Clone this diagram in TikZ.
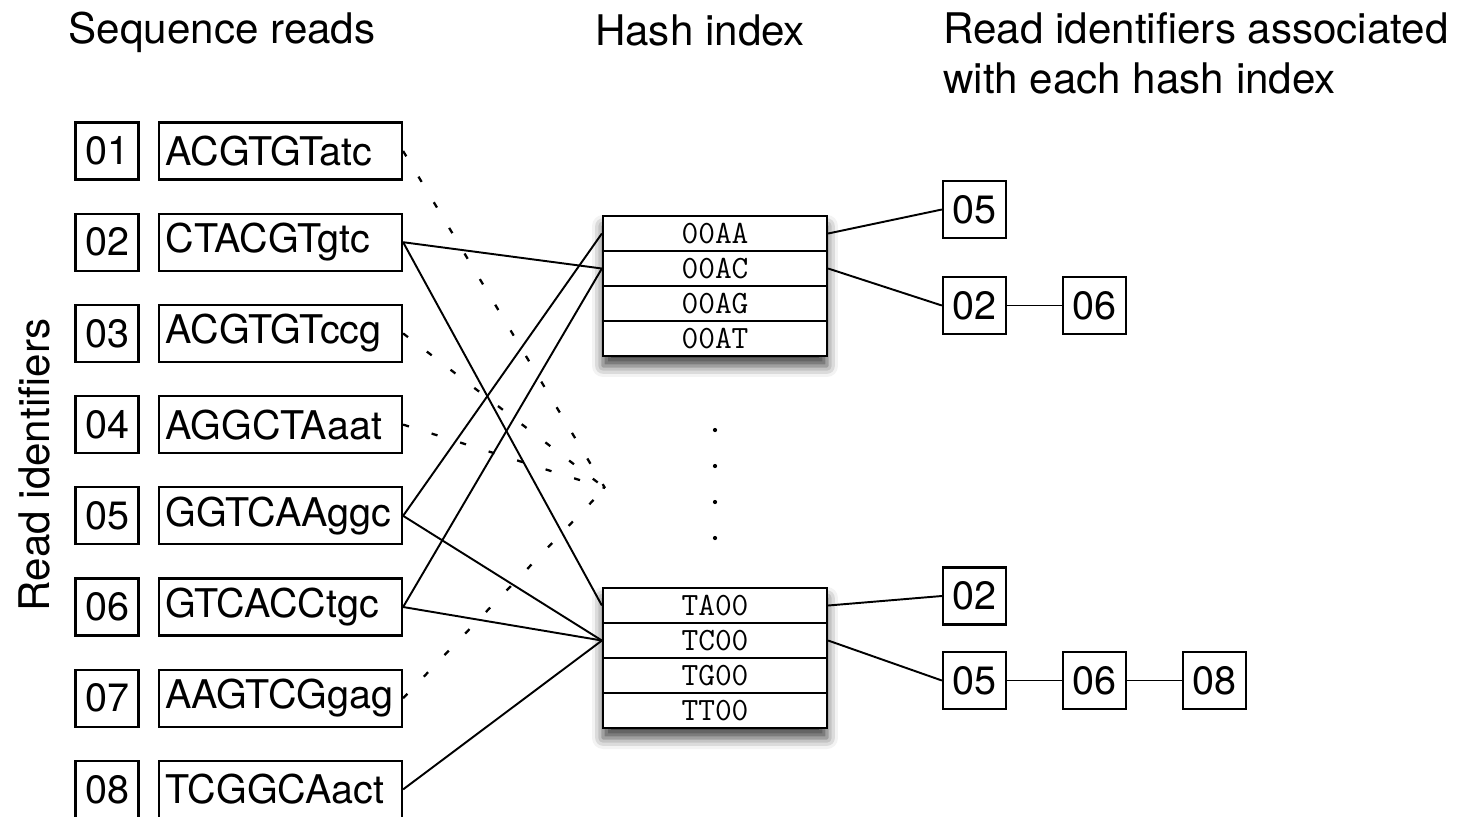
\documentclass[tikz,border=0pt]{standalone}
\usepackage{fontspec}
\setmainfont{TeX Gyre Heros}
\usetikzlibrary{shadows.blur}
\tikzset{
    title/.style={
        font=\fontsize{24pt}{28.5pt}\selectfont,
        inner sep=0pt
    },
    idbox/.style={
        draw,
        line width=1.3pt,
        minimum width=1.26cm,
        minimum height=1.14cm,
        inner sep=0pt,
        font=\fontsize{22.5pt}{25pt}\selectfont
    },
    readbox/.style={
        idbox,
        text width=4.6cm,
        inner xsep=0.13cm,
        align=left
    },
    hashcell/.style={
        draw,
        line width=1.3pt,
        fill=white,
        minimum width=4.48cm,
        minimum height=0.7cm,
        inner sep=0pt,
        font=\ttfamily\fontsize{18.5pt}{20pt}\selectfont
    },
    hashstack/.style={
        fill=white,
        minimum width=4.48cm,
        minimum height=2.8cm,
        blur shadow={shadow xshift=0pt, shadow yshift=-0.2cm,
            shadow blur radius=0.22cm, shadow opacity=75}
    },
    link/.style={line width=1.1pt},
    nolink/.style={line width=1.3pt, dash pattern=on 3.5pt off 13.5pt}
}

\begin{document}
\begin{tikzpicture}[x=0.02cm, y=-0.02cm]
    \useasboundingbox (0,0) rectangle (1457,816);
    \node[title, anchor=base] (seqtitle) at (222,43) {Sequence reads};
    \node[title, anchor=base] (hashtitle) at (700,45) {Hash index};
    \node[title, anchor=north west, align=left] (listtitle) at (943,12)
        {Read identifiers associated\\with each hash index};
    \node[title, rotate=90, anchor=base] (idtitle) at (50,465) {Read identifiers};

    \foreach \id/\seq [count=\i] in {01/ACGTGTatc, 02/CTACGTgtc, 03/ACGTGTccg,
            04/AGGCTAaat, 05/GGTCAAggc, 06/GTCACCtgc, 07/AAGTCGgag, 08/TCGGCAact} {
        \node[idbox] (id\id) at (107,{151+91.2*(\i-1)}) {\id};
        \node[readbox] (read\id) at (280.5,{151+91.2*(\i-1)}) {\seq};
    }

    \node[hashstack] (topstack) at (715,286) {};
    \node[hashstack] (botstack) at (715,658) {};
    \foreach \k [count=\i] in {00AA,00AC,00AG,00AT}
        \node[hashcell] (h\k) at (715,{198.5+35*\i}) {\k};
    \foreach \k [count=\i] in {TA00,TC00,TG00,TT00}
        \node[hashcell] (h\k) at (715,{570.5+35*\i}) {\k};
    \foreach \y in {430,466,502,538}
        \fill (715,\y) circle (1.2pt);

    \node[idbox] (aa05) at (974.5,209.5) {05};
    \node[idbox] (ac02) at (974.5,305.5) {02};
    \node[idbox] (ac06) at (1094.5,305.5) {06};
    \node[idbox] (ta02) at (974.5,596) {02};
    \node[idbox] (tc05) at (974.5,680.5) {05};
    \node[idbox] (tc06) at (1094.5,680.5) {06};
    \node[idbox] (tc08) at (1214.5,680.5) {08};

    \coordinate (miss) at (605,488);
    \foreach \r in {01,03,04,07}
        \draw[nolink] (read\r.east) -- (miss);

    \draw[link] (read02.east) -- (h00AC.west);
    \draw[link] (read02.east) -- (hTA00.west);
    \draw[link] (read05.east) -- (h00AA.west);
    \draw[link] (read05.east) -- (hTC00.west);
    \draw[link] (read06.east) -- (h00AC.west);
    \draw[link] (read06.east) -- (hTC00.west);
    \draw[link] (read08.east) -- (hTC00.west);

    \draw[link] (h00AA.east) -- (aa05.west);
    \draw[link] (h00AC.east) -- (ac02.west);
    \draw[link] (ac02) -- (ac06);
    \draw[link] (hTA00.east) -- (ta02.west);
    \draw[link] (hTC00.east) -- (tc05.west);
    \draw[link] (tc05) -- (tc06);
    \draw[link] (tc06) -- (tc08);
\end{tikzpicture}
\end{document}
